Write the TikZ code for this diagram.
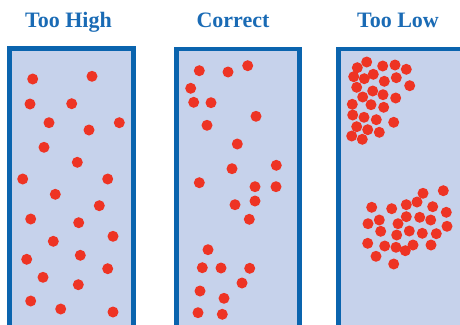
\documentclass[tikz,border=0pt]{standalone}
\usepackage{fontspec}
\setmainfont{Liberation Serif}
\definecolor{TubeBlue}{HTML}{0A64AE}
\definecolor{TubeFill}{HTML}{C6D2EB}
\definecolor{TitleBlue}{HTML}{1A6BB5}
\definecolor{DotRed}{HTML}{EE3424}
\begin{document}
\begin{tikzpicture}[
  x=1pt, y=-1pt,
  panel/.style={draw=TubeBlue, fill=TubeFill, line width=4.8pt},
  title/.style={text=TitleBlue, font=\bfseries\fontsize{22}{24}\selectfont, anchor=base, inner sep=0pt},
  dot/.style={fill=DotRed}
]
\useasboundingbox (0,0) rectangle (460,324);
\clip (0,0) rectangle (460,324);
% titles
\node[title] (high) at (68.5,27.7) {Too High};
\node[title] (correct) at (233,27.7) {Correct};
\node[title] (low) at (398,27.7) {Too Low};
% tubes
\draw[panel] (9.7,48.3) rectangle (133.3,340);
\draw[panel] (176.8,49) rectangle (299.7,340);
\draw[panel] (338.7,49) rectangle (480,340);
% too high: spread out
\foreach \x/\y in {32.7/79, 92/76.3, 30/104, 71.7/103.7, 49/122.7, 89/130, 119.3/122.7,
  44/147.3, 77.3/162.3, 22.7/179, 107.7/179, 55.3/194.3, 99.3/205.7, 30.7/219,
  78.7/222.7, 113/236.3, 53.3/241.3, 26.7/259.3, 80.3/255.3, 107.7/268.7, 43/277.3,
  78.3/284.7, 30.7/301, 60.7/309, 113/312}
  \fill[dot] (\x,\y) circle (5.5);
% correct: two groups
\foreach \x/\y in {199.3/70.7, 228/72, 247.7/65.7, 190.7/88.3, 193.7/102.3, 211/102.7,
  256/116.3, 207/125.3, 237.3/144, 232/168.7, 276.3/165.3, 199.3/182.7, 255/186.7,
  276/186.7, 235/204.7, 255/201, 249.3/219.3, 208/249.7, 202.3/267.7, 221/268,
  249.7/268.3, 242/283, 200/291, 224/298.3, 198/312.7, 222.3/314.3}
  \fill[dot] (\x,\y) circle (5.5);
% too low: packed clusters
\foreach \x/\y in {366.7/62, 357.3/67.7, 382.7/66, 395/65, 406.3/69.3, 353.7/76.7,
  364.3/78.7, 373.3/74.3, 384.3/81.3, 396.3/77.7, 409.7/85.7, 356.7/87.3, 372.7/91,
  383/94.7, 362.7/97, 395.7/98, 352.3/104.3, 371/104.7, 383.7/107.3, 352.7/115,
  364/117.3, 376.3/119.7, 393.7/122.3, 356.7/126.7, 367.7/129.7, 379.3/132.3,
  351.7/136, 362.3/139.3}
  \fill[dot] (\x,\y) circle (5.5);
\foreach \x/\y in {443.3/190.7, 423/193.3, 417/202, 406.3/204.7, 432.7/206.7,
  371.7/207.3, 391.7/208.7, 446.3/212.3, 406.3/216.7, 419.7/217.3, 430.7/220,
  379.3/220, 368/223.7, 398/223.7, 447/226.3, 380.7/231.3, 409.3/231, 422.3/233.3,
  436.3/233.7, 396.7/235, 367.7/243.3, 384.7/246, 396/247.3, 413/245, 431/245,
  405.3/250.7, 376/256.3, 393.7/264}
  \fill[dot] (\x,\y) circle (5.5);
\end{tikzpicture}
\end{document}
